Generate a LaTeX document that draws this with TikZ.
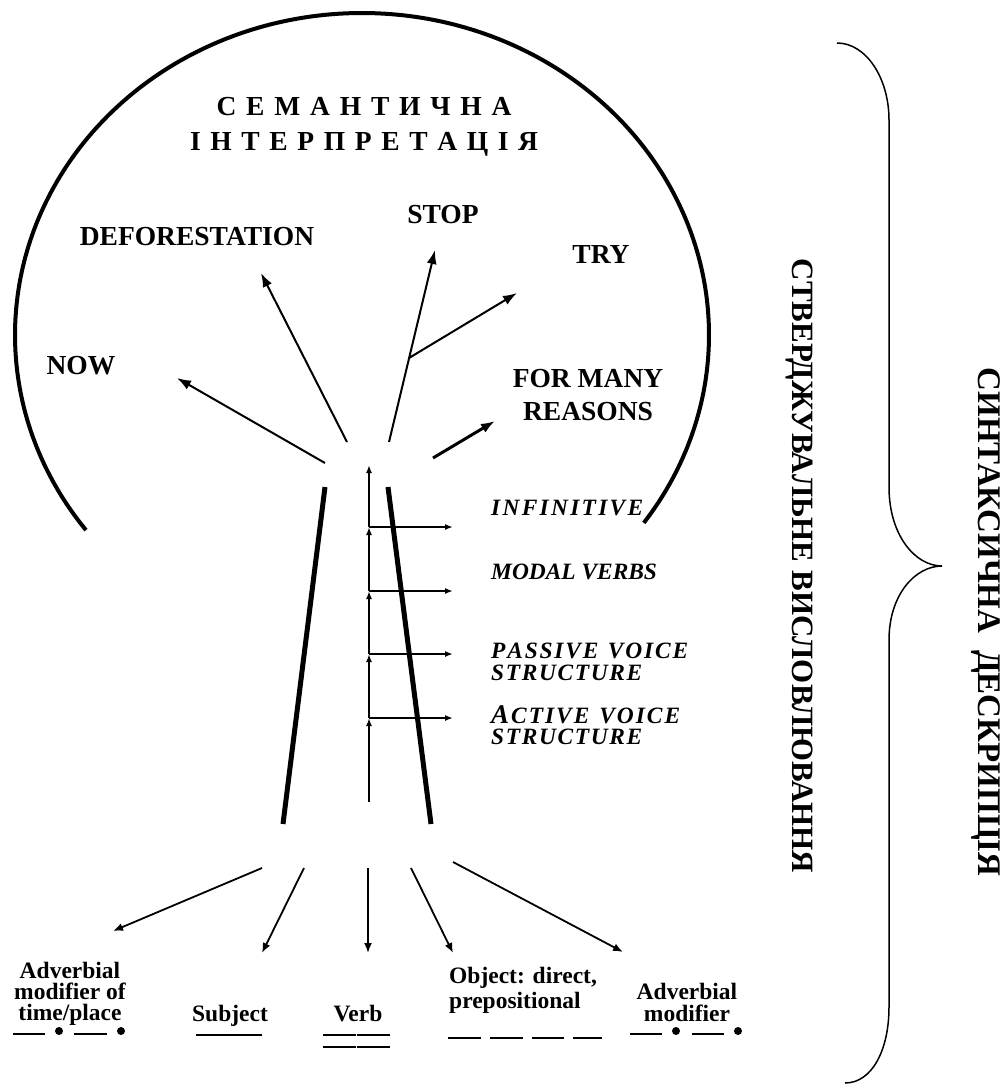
\documentclass[tikz,border=0pt]{standalone}
\usepackage{fontspec}
\setmainfont{Liberation Serif}
\usetikzlibrary{arrows.meta}
\newcommand\spreadbox[2]{\hbox to #1{#2}}
\begin{document}
\begin{tikzpicture}[x=1pt,y=-1pt,
  lblbig/.style={font=\bfseries\fontsize{27.5}{30}\selectfont, inner sep=0pt, anchor=base},
  lblsmall/.style={font=\bfseries\fontsize{23.5}{24}\selectfont, inner sep=0pt, anchor=base},
  lbllad/.style={font=\bfseries\itshape\fontsize{23.4}{24}\selectfont, inner sep=0pt, anchor=base west},
  lblvert/.style={font=\bfseries\fontsize{31}{31}\selectfont, inner sep=0pt, rotate=-90, anchor=base},
  uparr/.style={-{Latex[length=14pt,width=10pt]}, line width=2pt},
  downarr/.style={-{Latex[length=10pt,width=8pt]}, line width=1.8pt},
  ladarr/.style={-{Latex[length=8pt,width=6pt]}, line width=1.6pt},
  trunkline/.style={line width=5pt},
  ulline/.style={line width=2.5pt},
  ]
\useasboundingbox (0,0) rectangle (1003,1084);

% crown arc
\draw[line width=4pt] plot[domain=142.7:395.7, samples=120, smooth] ({362+347*cos(\x)},{335+322*sin(\x)});

% brace
\draw[line width=1.5pt] (837,43) .. controls (866,43) and (889,78) .. (889,120)
  -- (889,487) .. controls (889,535) and (915,566) .. (942,566)
  .. controls (915,566) and (889,595) .. (889,640)
  -- (889,1007) .. controls (889,1050) and (872,1083) .. (845,1083);

% headings
\node[lblbig] (sem1) at (364,115) {\spreadbox{295pt}{С\hfil Е\hfil М\hfil А\hfil Н\hfil Т\hfil И\hfil Ч\hfil Н\hfil А}};
\node[lblbig] (sem2) at (364,150) {\spreadbox{348pt}{І\hfil Н\hfil Т\hfil Е\hfil Р\hfil П\hfil Р\hfil Е\hfil Т\hfil А\hfil Ц\hfil І\hfil Я}};

% semantic labels
\node[lblbig] (defo) at (197,245) {DEFORESTATION};
\node[lblbig] (stop) at (443,223) {STOP};
\node[lblbig] (try) at (601,263) {TRY};
\node[lblbig] (now) at (81,374) {NOW};
\node[lblbig] (for1) at (588,387) {FOR MANY};
\node[lblbig] (for2) at (588,420) {REASONS};

% upper arrows
\coordinate (nowS) at (325,463); \coordinate (nowE) at (177,378);
\coordinate (defS) at (347,442); \coordinate (defE) at (261,273);
\coordinate (stpS) at (389,442); \coordinate (stpE) at (435,250);
\coordinate (tryS) at (409,358); \coordinate (tryE) at (517,293);
\coordinate (forS) at (433,458); \coordinate (forE) at (495,421);
\draw[uparr] (nowS) -- (nowE);
\draw[uparr] (defS) -- (defE);
\draw[uparr] (stpS) -- (stpE);
\draw[uparr] (tryS) -- (tryE);
\draw[uparr, line width=3pt] (forS) -- (forE);

% trunk
\coordinate (tl1) at (325,487); \coordinate (tl2) at (283,824);
\coordinate (tr1) at (388,487); \coordinate (tr2) at (431,824);
\draw[trunkline] (tl1) -- (tl2);
\draw[trunkline] (tr1) -- (tr2);

% ladder
\coordinate (l0) at (369,802); \coordinate (l1) at (369,718);
\coordinate (l2) at (369,654); \coordinate (l3) at (369,591);
\coordinate (l4) at (369,527); \coordinate (l5) at (369,465);
\coordinate (h1) at (453,718); \coordinate (h2) at (453,654);
\coordinate (h3) at (453,591); \coordinate (h4) at (453,527);
\draw[ladarr] (l0) -- (l1);
\draw[ladarr] (l1) -- (l2);
\draw[ladarr] (l2) -- (l3);
\draw[ladarr] (l3) -- (l4);
\draw[ladarr] (l4) -- (l5);
\draw[ladarr] (l1) -- (h1);
\draw[ladarr] (l2) -- (h2);
\draw[ladarr] (l3) -- (h3);
\draw[ladarr] (l4) -- (h4);

% ladder labels
\node[lbllad] (inf) at (491,515) {\spreadbox{152pt}{I\hfil N\hfil F\hfil I\hfil N\hfil I\hfil T\hfil I\hfil V\hfil E}};
\node[lbllad] (mod) at (491,579) {MODAL VERBS};
\node[lbllad] (pas1) at (491,658) {\spreadbox{197pt}{P\hfil A\hfil S\hfil S\hfil I\hfil V\hfil E\hfil\ \hfil V\hfil O\hfil I\hfil C\hfil E}};
\node[lbllad] (pas2) at (491,680) {\spreadbox{151pt}{S\hfil T\hfil R\hfil U\hfil C\hfil T\hfil U\hfil R\hfil E}};
\node[lbllad] (act1) at (491,723) {\spreadbox{189pt}{{\fontsize{27}{27}\selectfont A}\hfil C\hfil T\hfil I\hfil V\hfil E\hfil\ \hfil V\hfil O\hfil I\hfil C\hfil E}};
\node[lbllad] (act2) at (491,744) {\spreadbox{151pt}{S\hfil T\hfil R\hfil U\hfil C\hfil T\hfil U\hfil R\hfil E}};

% lower arrows
\coordinate (b1S) at (262,868); \coordinate (b1E) at (113,931);
\coordinate (b2S) at (304,868); \coordinate (b2E) at (262,953);
\coordinate (b3S) at (368,868); \coordinate (b3E) at (368,953);
\coordinate (b4S) at (411,868); \coordinate (b4E) at (453,953);
\coordinate (b5S) at (453,862); \coordinate (b5E) at (623,952);
\draw[downarr] (b1S) -- (b1E);
\draw[downarr] (b2S) -- (b2E);
\draw[downarr] (b3S) -- (b3E);
\draw[downarr] (b4S) -- (b4E);
\draw[downarr] (b5S) -- (b5E);

% lower labels
\node[lblsmall] (adv1a) at (70,978) {Adverbial};
\node[lblsmall] (adv1b) at (70,999) {modifier of};
\node[lblsmall] (adv1c) at (70,1020) {time/place};
\node[lblsmall] (subj) at (230,1021) {Subject};
\node[lblsmall] (verb) at (358,1021) {Verb};
\node[lblsmall, anchor=base west] (obj1) at (449,983) {Object: direct,};
\node[lblsmall, anchor=base west] (obj2) at (449,1008) {prepositional};
\node[lblsmall] (adv2a) at (687,999) {Adverbial};
\node[lblsmall] (adv2b) at (687,1021) {modifier};

% underline marks
\draw[ulline] (13,1034) -- (45,1034);
\fill (59,1031) circle[radius=4];
\draw[ulline] (74,1034) -- (107,1034);
\fill (121,1031) circle[radius=4];
\draw[ulline] (196,1035) -- (262,1035);
\draw[ulline] (323,1035) -- (356,1035);
\draw[ulline] (357,1035) -- (390,1035);
\draw[line width=2pt] (323,1047) -- (356,1047);
\draw[line width=2pt] (357,1047) -- (390,1047);
\draw[ulline] (448,1038) -- (481,1038);
\draw[ulline] (490,1038) -- (523,1038);
\draw[ulline] (532,1038) -- (564,1038);
\draw[ulline] (573,1038) -- (602,1038);
\draw[ulline] (630,1034) -- (662,1034);
\fill (676,1031) circle[radius=4];
\draw[ulline] (692,1034) -- (724,1034);
\fill (738,1031) circle[radius=4];

% vertical texts
\node[lblvert] (stv) at (792,566) {СТВЕРДЖУВАЛЬНЕ ВИСЛОВЛЮВАННЯ};
\node[lblvert, font=\bfseries\fontsize{33}{33}\selectfont] (syn) at (978,622) {СИНТАКСИЧНА\hspace{17pt}ДЕСКРИПЦІЯ};
\end{tikzpicture}
\end{document}
